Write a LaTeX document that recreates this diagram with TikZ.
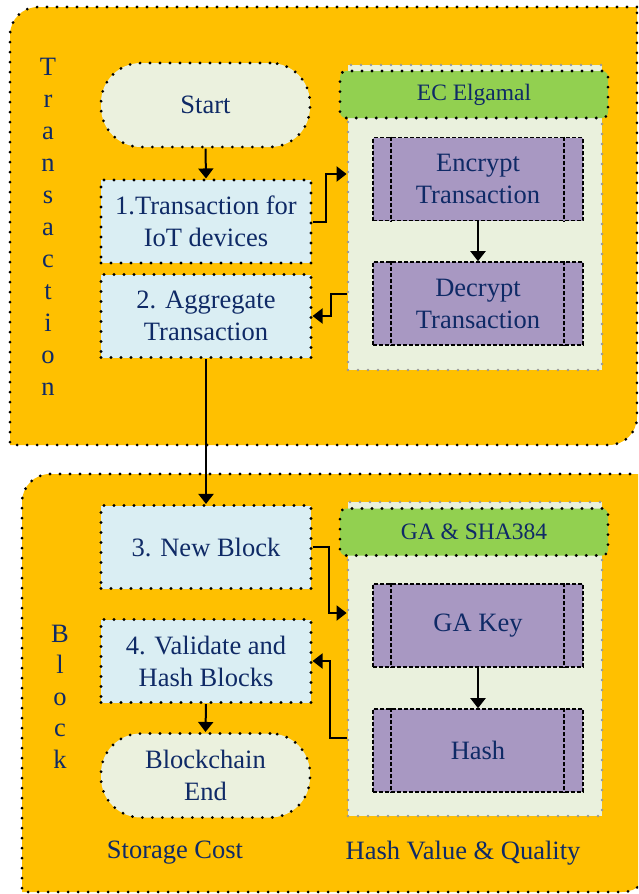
\documentclass[tikz,border=0pt]{standalone}
\usepackage{fontspec}
\setmainfont{Liberation Serif}
\usetikzlibrary{arrows.meta}

\definecolor{panelorange}{HTML}{FFC000}
\definecolor{boxblue}{HTML}{DAEEF3}
\definecolor{termfill}{HTML}{EBF1DE}
\definecolor{contfill}{HTML}{EAF1DD}
\definecolor{headgreen}{HTML}{92D050}
\definecolor{procpurple}{HTML}{A898C2}
\definecolor{navy}{HTML}{0F2A66}
\definecolor{dotgray}{HTML}{999999}

\tikzset{
  dotline/.style={line width=3.1pt, line cap=round, dash pattern=on 0pt off 10pt},
  panel/.style={fill=panelorange, draw=black, dotline},
  maintext/.style={text=navy, font=\fontsize{26.5}{32}\selectfont, align=center, inner sep=0pt},
  procbox/.style={maintext, rectangle, fill=boxblue, draw=black, dotline,
    minimum width=210pt, minimum height=83pt},
  termbox/.style={maintext, rectangle, rounded corners=40pt, fill=termfill, draw=black, dotline,
    minimum width=209pt, minimum height=84pt},
  container/.style={rectangle, fill=contfill, draw=dotgray, line width=2.8pt, line cap=round,
    dash pattern=on 0pt off 10pt, minimum width=254pt},
  header/.style={rectangle, rounded corners=6pt, fill=headgreen, draw=black, dotline,
    minimum width=268pt, minimum height=47pt, text=navy, font=\fontsize{23.5}{28}\selectfont, inner sep=0pt},
  subproc/.style={maintext, rectangle, fill=procpurple, draw=black, line width=1.6pt,
    dash pattern=on 4pt off 2pt, minimum width=210pt, minimum height=83pt},
  subline/.style={draw=black, line width=1.6pt, dash pattern=on 4pt off 2pt},
  flow/.style={draw=black, line width=2pt, -{Triangle[length=10pt,width=15pt]}},
  vletter/.style={text=navy, font=\fontsize{26.5}{32}\selectfont, anchor=base, inner sep=0pt},
}

\begin{document}
\begin{tikzpicture}[x=1pt, y=-1pt]
  \useasboundingbox (0,0) rectangle (638,894);
  \clip (0,0) rectangle (638,894);
  \fill[white] (0,0) rectangle (638,894);

  % two stage panels, rounded at top-left and bottom-right
  \draw[panel] (637,7) -- (38,7) arc[start angle=90, end angle=180, radius=28pt]
    -- (10,445) -- (609,445) arc[start angle=270, end angle=360, radius=28pt] -- cycle;
  \draw[panel] (650,474) -- (50,474) arc[start angle=90, end angle=180, radius=28pt]
    -- (22,892) -- (622,892) arc[start angle=270, end angle=360, radius=28pt] -- cycle;

  % vertical stage titles
  \foreach \ch [count=\i from 0] in {T,r,a,n,s,a,c,t,i,o,n}
    \node[vletter] (tr\i) at (48, 75+32*\i) {\ch};
  \foreach \ch [count=\i from 0] in {B,l,o,c,k}
    \node[vletter] (bl\i) at (60, 642+31.5*\i) {\ch};

  % transaction stage
  \node[termbox] (start) at (205.5,105) {Start};
  \node[procbox] (b1) at (206,221.5) {1.Transaction for\\IoT devices};
  \node[procbox] (b2) at (206,316) {2. Aggregate\\Transaction};

  \node[container, minimum height=305pt] (ecbox) at (475,217.5) {};
  \node[header] (echead) at (474,94.5) {EC Elgamal};
  \node[subproc] (enc) at (478,179) {Encrypt\\Transaction};
  \node[subproc] (dec) at (478,303.5) {Decrypt\\Transaction};
  \foreach \n in {enc,dec} {
    \draw[subline] ([xshift=19pt]\n.north west) -- ([xshift=19pt]\n.south west);
    \draw[subline] ([xshift=-20pt]\n.north east) -- ([xshift=-20pt]\n.south east);
  }

  % block stage
  \node[procbox] (b3) at (206,547) {3. New Block};
  \node[procbox] (b4) at (206,661) {4. Validate and\\Hash Blocks};
  \node[termbox] (bend) at (205.5,775.5) {Blockchain\\End};

  \node[container, minimum height=314pt] (gabox) at (475,659) {};
  \node[header] (gahead) at (474,532) {GA \& SHA384};
  \node[subproc] (gakey) at (478,625.5) {GA Key};
  \node[subproc] (hash) at (478,750.5) {Hash};
  \foreach \n in {gakey,hash} {
    \draw[subline] ([xshift=19pt]\n.north west) -- ([xshift=19pt]\n.south west);
    \draw[subline] ([xshift=-20pt]\n.north east) -- ([xshift=-20pt]\n.south east);
  }

  \node[maintext] (storage) at (175,853) {Storage Cost};
  \node[maintext] (quality) at (463,853) {Hash Value \& Quality};

  % connectors
  \draw[flow] (start.south) -- (b1.north);
  \draw[flow] (b1.east) -- ++(13,0) |- ([yshift=43.5pt]ecbox.west);
  \draw[flow] (enc.south) -- (dec.north);
  \draw[flow] ([yshift=-76.5pt]ecbox.west) -- ++(-16,0) |- (b2.east);
  \draw[flow] (b2.south) -- (b3.north);
  \draw[flow] (b3.east) -- ++(16,0) |- ([yshift=46pt]gabox.west);
  \draw[flow] (gakey.south) -- (hash.north);
  \draw[flow] ([yshift=-79pt]gabox.west) -- ++(-17,0) |- (b4.east);
  \draw[flow] (b4.south) -- (bend.north);
\end{tikzpicture}
\end{document}
